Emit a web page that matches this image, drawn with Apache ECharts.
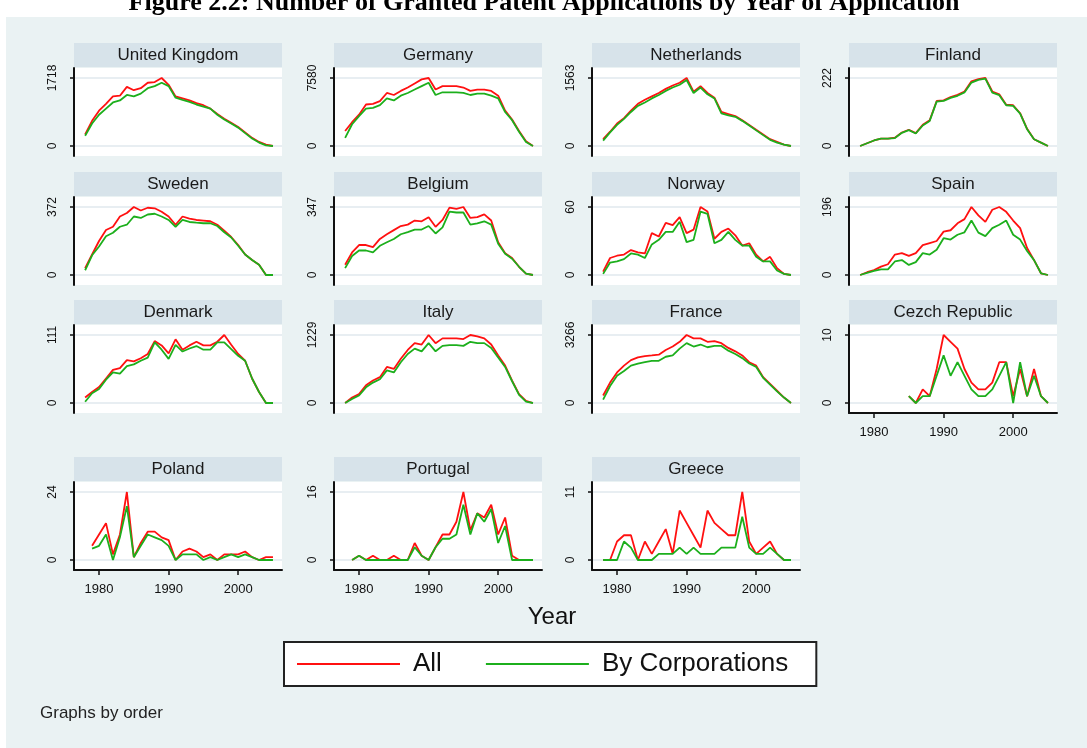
<!DOCTYPE html>
<html>
<head>
<meta charset="utf-8">
<script src="https://cdn.jsdelivr.net/npm/echarts@6/dist/echarts.min.js"></script>
<style>
html, body { margin: 0; padding: 0; background: #fff; }
#main { width: 1087px; height: 748px; }
</style>
</head>
<body>
<div id="main"></div>
<script>
var years = [1978,1979,1980,1981,1982,1983,1984,1985,1986,1987,1988,1989,1990,1991,
             1992,1993,1994,1995,1996,1997,1998,1999,2000,2001,2002,2003,2004,2005];
var countries = ['United Kingdom', 'Germany', 'Netherlands', 'Finland',
                 'Sweden', 'Belgium', 'Norway', 'Spain',
                 'Denmark', 'Italy', 'France', 'Cezch Republic',
                 'Poland', 'Portugal', 'Greece'];
// top tick of each panel
var topTicks = [1718, 7580, 1563, 222, 372, 347, 60, 196, 111, 1229, 3266, 10, 24, 16, 11];
var yearTicks = [1980, 1990, 2000];

// All applications / applications by corporations, 1978-2005
var ukAll = [292,636,893,1065,1254,1271,1495,1409,1460,1598,1615,1718,1546,1254,1203,1151,1082,1031,945,807,687,584,481,344,206,103,34,0];
var ukCorp = [258,567,790,945,1100,1151,1289,1254,1323,1460,1512,1598,1512,1220,1168,1117,1048,996,945,790,670,567,464,326,189,86,17,0];
var deAll = [1668,2653,3487,4624,4700,5003,5912,5685,6140,6519,6974,7428,7580,6291,6670,6670,6670,6519,6140,6291,6291,6140,5609,3942,2956,1668,531,0];
var deCorp = [910,2426,3335,4169,4245,4548,5306,5079,5609,5912,6291,6670,7049,5685,5988,5988,5988,5912,5685,5837,5837,5609,5306,3790,2880,1592,455,0];
var nlAll = [156,328,516,641,813,969,1063,1141,1219,1313,1391,1454,1563,1250,1375,1219,1110,782,735,688,594,485,375,266,156,94,31,0];
var nlCorp = [125,313,485,625,782,922,1000,1094,1172,1266,1344,1407,1516,1219,1344,1188,1094,750,703,672,578,469,359,250,141,78,31,0];
var fiAll = [0,9,18,24,24,27,44,53,42,69,84,147,149,160,167,178,211,218,222,178,169,135,133,107,56,22,11,0];
var fiCorp = [0,9,18,24,24,26,43,52,41,67,82,145,147,157,164,175,207,216,220,174,166,133,131,106,55,22,11,0];
var seAll = [37,112,186,246,264,320,339,372,353,368,365,346,320,275,320,309,301,298,294,275,242,208,164,112,82,56,0,0];
var seCorp = [26,108,156,212,231,264,275,320,312,331,335,320,301,264,301,290,286,283,283,268,234,205,160,112,82,56,0,0];
var beAll = [52,115,153,153,142,184,208,229,250,257,278,274,295,246,281,344,337,347,291,295,309,278,167,111,87,42,7,0];
var beCorp = [35,97,125,125,115,149,167,184,208,219,232,232,250,212,243,323,319,319,257,264,274,257,160,108,83,42,7,0];
var noAll = [3,15,17,18,22,20,19,37,34,46,44,51,37,40,60,56,32,38,41,35,26,28,18,12,16,6,1,0];
var noCorp = [1,11,12,14,19,18,15,27,31,38,38,47,29,31,56,54,28,31,38,31,26,26,16,12,12,4,1,0];
var esAll = [0,8,14,24,31,59,63,55,63,86,92,98,125,129,149,161,196,172,153,188,196,182,157,135,78,43,5,0];
var esCorp = [0,6,12,16,16,39,43,29,37,63,59,73,106,102,116,123,157,122,112,135,145,157,116,102,69,43,5,0];
var dkAll = [9,18,26,40,54,57,70,68,73,80,101,94,81,104,87,94,100,94,94,100,111,95,80,69,40,18,0,0];
var dkCorp = [2,16,23,38,50,48,60,63,69,74,99,87,72,95,84,89,93,87,87,99,99,88,77,69,40,18,0,0];
var itAll = [0,98,160,320,406,467,651,615,799,959,1082,1057,1229,1082,1168,1168,1168,1155,1229,1204,1168,1057,860,676,406,160,37,0];
var itCorp = [0,74,135,283,369,430,590,553,737,885,983,934,1082,934,1032,1045,1045,1032,1106,1082,1082,995,823,651,393,147,25,0];
var frAll = [359,980,1470,1796,2058,2188,2254,2286,2319,2547,2711,2939,3266,3103,3103,2939,2972,2874,2645,2482,2286,1960,1796,1241,914,588,261,0];
var frCorp = [163,817,1306,1535,1796,1894,1960,2025,2025,2221,2286,2613,2874,2711,2809,2678,2743,2743,2515,2352,2156,1894,1731,1208,882,555,261,0];
var czAll = [null,null,null,null,null,null,null,1,0,2,1,5,10,9,8,5,3,2,2,3,6,6,1,5,1,5,1,0];
var czCorp = [null,null,null,null,null,null,null,1,0,1,1,4,7,4,6,4,2,1,1,2,4,6,0,6,1,4,1,0];
var plAll = [null,5,9,13,2,9,24,1,6,10,10,8,7,0,3,4,3,1,2,0,2,2,2,3,1,0,1,1];
var plCorp = [null,4,5,9,0,8,19,1,5,9,8,7,5,0,2,2,2,0,1,0,1,2,1,2,1,0,0,0];
var ptAll = [null,0,1,0,1,0,0,1,0,0,4,1,0,3,6,6,9,16,7,11,10,13,6,10,1,0,0,0];
var ptCorp = [null,0,1,0,0,0,0,0,0,0,3,1,0,3,5,5,6,13,6,11,9,12,4,8,0,0,0,0];
var grAll = [0,0,3,4,4,0,3,1,3,5,1,8,6,4,2,8,6,5,4,4,11,3,1,2,3,1,0,0];
var grCorp = [0,0,0,3,2,0,0,0,1,1,1,2,1,2,1,1,1,2,2,2,7,2,1,1,2,1,0,0];

var allData = [ukAll, deAll, nlAll, fiAll, seAll, beAll, noAll, esAll,
               dkAll, itAll, frAll, czAll, plAll, ptAll, grAll];
var corpData = [ukCorp, deCorp, nlCorp, fiCorp, seCorp, beCorp, noCorp, esCorp,
                dkCorp, itCorp, frCorp, czCorp, plCorp, ptCorp, grCorp];

var RED = '#ff1010', GREEN = '#1caf1c';
var FONT = 'Liberation Sans, Arial, sans-serif';
var colLeft = [74, 334, 592, 849];
var rowTop = [68, 197, 325, 482];
var plotW = 208, plotH = 88, stripH = 24;

function pairs(vals) {
    var out = [];
    for (var k = 0; k < years.length; k++) {
        if (vals[k] !== null) out.push([years[k], vals[k]]);
    }
    return out;
}

function buildOption() {
    var grids = [], xAxes = [], yAxes = [], series = [];
    var graphics = [
        // white margin above and left of the graph region
        { type: 'rect', shape: { x: 0, y: 0, width: 1087, height: 17 }, style: { fill: '#fff' } },
        { type: 'rect', shape: { x: 0, y: 0, width: 6, height: 748 }, style: { fill: '#fff' } },
        { type: 'text', x: 544, y: 3, style: { text: 'Figure 2.2: Number of Granted Patent Applications by Year of Application',
            font: 'bold 26px "Liberation Serif", serif', fill: '#000', align: 'center', verticalAlign: 'middle' } },
        { type: 'text', x: 552, y: 617, style: { text: 'Year', font: '24px ' + FONT, fill: '#111', align: 'center', verticalAlign: 'middle' } },
        { type: 'text', x: 40, y: 713, style: { text: 'Graphs by order', font: '17px ' + FONT, fill: '#222', align: 'left', verticalAlign: 'middle' } }
    ];

    for (var i = 0; i < countries.length; i++) {
        var px = colLeft[i % 4], py = rowTop[Math.floor(i / 4)];
        var M = topTicks[i];
        var hasYears = (i >= 11);

        grids.push({ left: px, top: py, width: plotW, height: plotH, show: true,
            backgroundColor: '#fff', borderWidth: 0, containLabel: false, outerBoundsMode: 'none' });

        xAxes.push({
            gridIndex: i, type: 'value', min: 1976.4, max: 2006.3, show: hasYears,
            axisLine: { show: true, onZero: false, lineStyle: { color: '#111', width: 2 } },
            axisTick: { show: true, length: 5, customValues: yearTicks, lineStyle: { color: '#111', width: 1.5 } },
            axisLabel: { show: true, customValues: yearTicks, fontSize: 13, fontFamily: FONT, color: '#111', margin: 13,
                formatter: function (v) { return String(v); } },
            splitLine: { show: false }
        });

        yAxes.push({
            gridIndex: i, type: 'value', min: -M * 10 / 68, max: M * 78 / 68,
            axisLine: { show: true, onZero: false, lineStyle: { color: '#111', width: 2 } },
            axisTick: { show: true, length: 4, customValues: [0, M], lineStyle: { color: '#111', width: 1.5 } },
            axisLabel: { show: true, customValues: [0, M], rotate: 90, fontSize: 12, fontFamily: FONT, color: '#111', margin: 15,
                formatter: function (v) { return String(v); } },
            splitLine: { show: true, lineStyle: { color: '#e0e9ee', width: 1.5 } }
        });

        series.push({ type: 'line', name: 'All', xAxisIndex: i, yAxisIndex: i, data: pairs(allData[i]),
            showSymbol: false, symbol: 'none', itemStyle: { color: RED }, lineStyle: { color: RED, width: 1.8 } });
        series.push({ type: 'line', name: 'By Corporations', xAxisIndex: i, yAxisIndex: i, data: pairs(corpData[i]),
            showSymbol: false, symbol: 'none', itemStyle: { color: GREEN }, lineStyle: { color: GREEN, width: 1.8 } });

        // panel strip with the country name
        graphics.push({ type: 'rect', shape: { x: px, y: py - stripH - 1, width: plotW, height: stripH },
            style: { fill: '#d7e3ea' } });
        graphics.push({ type: 'text', x: px + plotW / 2, y: py - stripH / 2 - 1,
            style: { text: countries[i], font: '17px ' + FONT, fill: '#1a1a1a', align: 'center', verticalAlign: 'middle' } });
    }

    return {
        animation: false,
        backgroundColor: '#eaf2f3',
        grid: grids,
        xAxis: xAxes,
        yAxis: yAxes,
        series: series,
        graphic: graphics,
        legend: {
            data: ['All', 'By Corporations'],
            left: 284, top: 642,
            icon: 'rect', itemWidth: 103, itemHeight: 2, itemGap: 44,
            padding: [9, 28, 9, 13],
            backgroundColor: '#fff', borderColor: '#222', borderWidth: 2, borderRadius: 0,
            selectedMode: false,
            textStyle: { fontSize: 26, fontFamily: FONT, color: '#111', padding: [0, 0, 0, 8] }
        }
    };
}

var myChart = echarts.init(document.getElementById('main'));
myChart.setOption(buildOption());
</script>
</body>
</html>
